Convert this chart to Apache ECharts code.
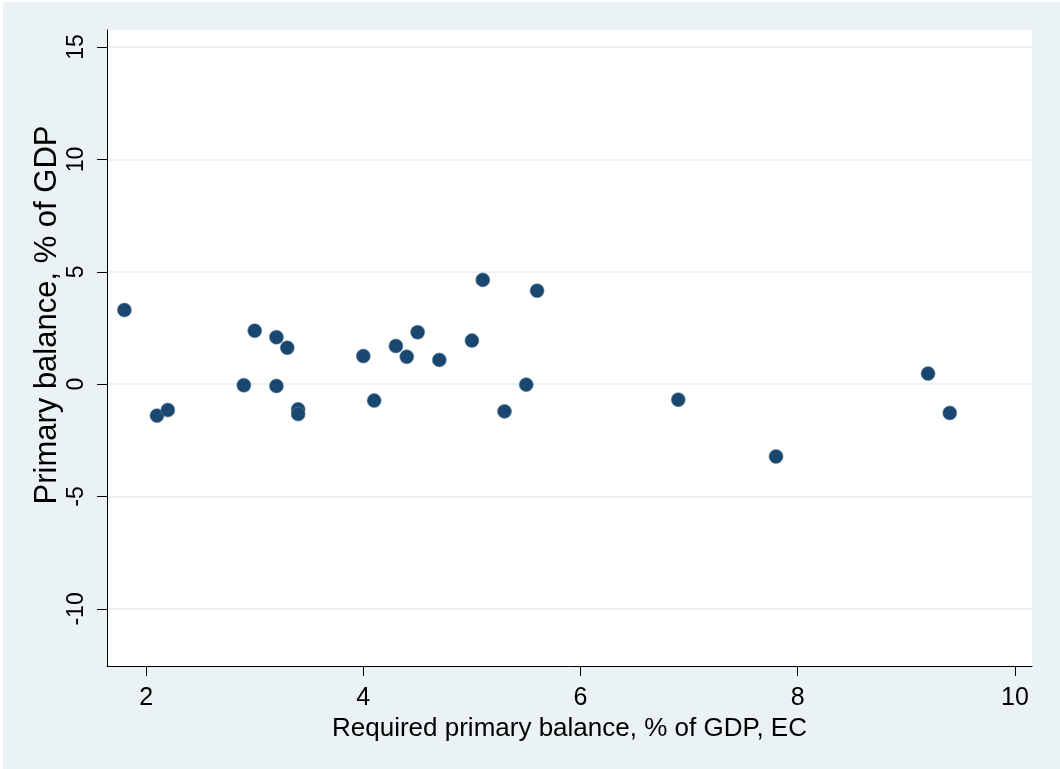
<!DOCTYPE html>
<html>
<head>
<meta charset="utf-8">
<script src="https://cdn.jsdelivr.net/npm/echarts@6/dist/echarts.min.js"></script>
<style>
  html, body { margin: 0; padding: 0; background: #ffffff; }
  #chart { position: absolute; left: 3px; top: 2px; width: 1057px; height: 767px; }
</style>
</head>
<body>
<div id="chart"></div>
<script>
// Required primary balance (EC estimate), % of GDP
const requiredBalance = [1.8, 2.1, 2.2, 2.9, 3.0, 3.2, 3.2, 3.3, 3.4, 3.4, 4.0, 4.1, 4.3, 4.4, 4.5, 4.7, 5.0, 5.1, 5.3, 5.5, 5.6, 6.9, 7.8, 9.2, 9.4];
// Actual primary balance, % of GDP
const primaryBalance = [3.30, -1.40, -1.15, -0.05, 2.38, 2.09, -0.08, 1.62, -1.12, -1.33, 1.25, -0.73, 1.70, 1.22, 2.31, 1.08, 1.94, 4.64, -1.21, -0.02, 4.16, -0.69, -3.22, 0.47, -1.28];

const xTicks = [2, 4, 6, 8, 10];
const yTicks = [-10, -5, 0, 5, 10, 15];

const xTitle = 'Required primary balance, % of GDP, EC';
const yTitle = 'Primary balance, % of GDP';

const points = requiredBalance.map((x, i) => [x, primaryBalance[i]]);

const font = 'Liberation Sans, Arial, sans-serif';
const chart = echarts.init(document.getElementById('chart'), null, { renderer: 'canvas' });

chart.setOption({
  backgroundColor: '#eaf2f3',
  animation: false,
  grid: { left: 104, right: 28, top: 28, bottom: 103, show: true, backgroundColor: '#ffffff', borderWidth: 0 },
  // vertical y-axis title, reading bottom to top
  graphic: [{
    type: 'text',
    x: 44,
    y: 313,
    rotation: Math.PI / 2,
    style: {
      text: yTitle,
      fill: '#000',
      font: '31px ' + font,
      align: 'center',
      verticalAlign: 'middle'
    }
  }],
  xAxis: {
    type: 'value',
    min: 1.64,
    max: 10.157,
    name: xTitle,
    nameLocation: 'middle',
    nameGap: 42,
    nameTextStyle: { color: '#000', fontFamily: font, fontSize: 26 },
    axisLine: { show: true, onZero: false, lineStyle: { color: '#000', width: 1 } },
    axisTick: { show: true, length: 10, customValues: xTicks, lineStyle: { color: '#000' } },
    axisLabel: { customValues: xTicks, margin: 20, color: '#000', fontFamily: font, fontSize: 25 },
    splitLine: { show: false }
  },
  yAxis: {
    type: 'value',
    min: -12.54,
    max: 15.76,
    axisLine: { show: true, onZero: false, lineStyle: { color: '#000', width: 1 } },
    axisTick: { show: true, length: 10, customValues: yTicks, lineStyle: { color: '#000' } },
    axisLabel: { customValues: yTicks, rotate: 90, margin: 19, color: '#000', fontFamily: font, fontSize: 23 },
    splitLine: { show: true, lineStyle: { color: '#eaf2f3', width: 2 } }
  },
  series: [{
    type: 'scatter',
    data: points,
    symbol: 'circle',
    symbolSize: 14,
    itemStyle: { color: '#1a476f', borderColor: '#5f7f9c', borderWidth: 0.6, opacity: 1 }
  }]
});
</script>
</body>
</html>
